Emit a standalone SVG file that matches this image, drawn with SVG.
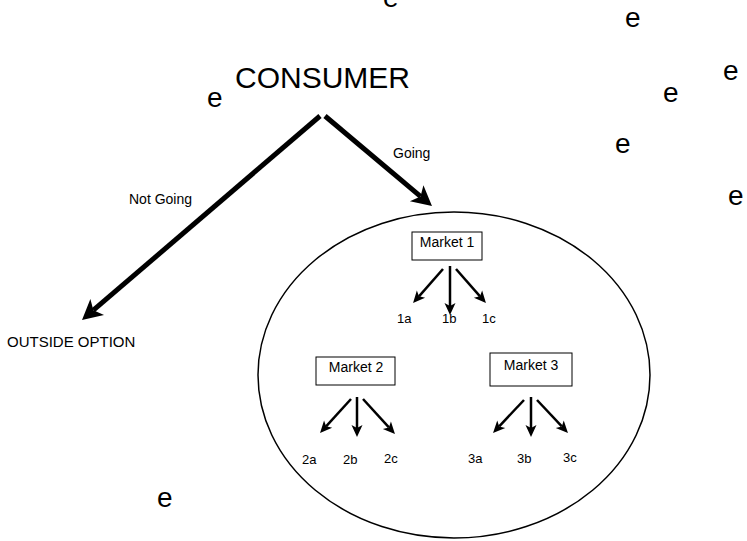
<svg xmlns="http://www.w3.org/2000/svg" width="747" height="541" viewBox="0 0 747 541">
<style>
text{font-family:"Liberation Sans",Arial,Helvetica,sans-serif;fill:#000}
.e{font-size:28px}
.lbl{font-size:14px}
.leaf{font-size:13px}
.box{fill:#fff;stroke:#000;stroke-width:1}
.thick{stroke:#000;stroke-width:5;fill:none}
.thin{stroke:#000;stroke-width:2.5;fill:none}
</style>
<defs>
<marker id="big" markerUnits="userSpaceOnUse" markerWidth="24" markerHeight="24" viewBox="-2 -12 24 24" refX="5" refY="0" orient="auto">
<path d="M0,-10.5 L20,0 L0,10.5 L5,0 Z" fill="#000"/>
</marker>
<marker id="small" markerUnits="userSpaceOnUse" markerWidth="16" markerHeight="14" viewBox="-1 -7 16 14" refX="3" refY="0" orient="auto">
<path d="M0,-5.5 L12,0 L0,5.5 L3,0 Z" fill="#000"/>
</marker>
</defs>
<g id="decor">
<text class="e" x="383" y="7">e</text>
<text class="e" x="207" y="107">e</text>
<text class="e" x="625" y="27">e</text>
<text class="e" x="723" y="80">e</text>
<text class="e" x="663" y="102">e</text>
<text class="e" x="615" y="153">e</text>
<text class="e" x="728" y="205">e</text>
<text class="e" x="157" y="507">e</text>
</g>
<g id="consumer"><text x="235" y="88" style="font-size:30px">CONSUMER</text></g>
<g id="outside"><text x="7" y="347" style="font-size:15px">OUTSIDE OPTION</text></g>
<g id="nest"><ellipse cx="454" cy="375" rx="196" ry="163" fill="none" stroke="#000" stroke-width="1.5"/></g>
<g id="market1"><rect class="box" x="412" y="232" width="70" height="28"/><text class="lbl" x="447" y="247" text-anchor="middle">Market 1</text></g>
<g id="market2"><rect class="box" x="316" y="357" width="79" height="28"/><text class="lbl" x="356" y="372" text-anchor="middle">Market 2</text></g>
<g id="market3"><rect class="box" x="490" y="353" width="82" height="33"/><text class="lbl" x="531" y="370" text-anchor="middle">Market 3</text></g>
<g id="leaves">
<text class="leaf" x="397" y="323">1a</text>
<text class="leaf" x="442" y="323">1b</text>
<text class="leaf" x="482" y="323">1c</text>
<text class="leaf" x="302" y="464">2a</text>
<text class="leaf" x="343" y="464">2b</text>
<text class="leaf" x="384" y="463">2c</text>
<text class="leaf" x="468" y="463">3a</text>
<text class="leaf" x="517" y="463">3b</text>
<text class="leaf" x="563" y="462">3c</text>
</g>
<g id="connectors">
<line class="thick" x1="320" y1="116" x2="93.4" y2="310.2" marker-end="url(#big)"/>
<line class="thick" x1="325" y1="116" x2="420.5" y2="196.4" marker-end="url(#big)"/>
<text class="lbl" x="129" y="204">Not Going</text>
<text class="lbl" x="393" y="158">Going</text>
<line class="thin" x1="443" y1="269" x2="419" y2="296.3" marker-end="url(#small)"/>
<line class="thin" x1="450" y1="266" x2="450" y2="306" marker-end="url(#small)"/>
<line class="thin" x1="456" y1="269" x2="480" y2="296.3" marker-end="url(#small)"/>
<line class="thin" x1="351" y1="399" x2="326.1" y2="426.3" marker-end="url(#small)"/>
<line class="thin" x1="357" y1="397" x2="357" y2="428" marker-end="url(#small)"/>
<line class="thin" x1="363" y1="399" x2="388.9" y2="427.4" marker-end="url(#small)"/>
<line class="thin" x1="524" y1="400" x2="499.2" y2="426.4" marker-end="url(#small)"/>
<line class="thin" x1="531" y1="397" x2="531" y2="428" marker-end="url(#small)"/>
<line class="thin" x1="537" y1="400" x2="561.8" y2="426.4" marker-end="url(#small)"/>
</g>
</svg>
